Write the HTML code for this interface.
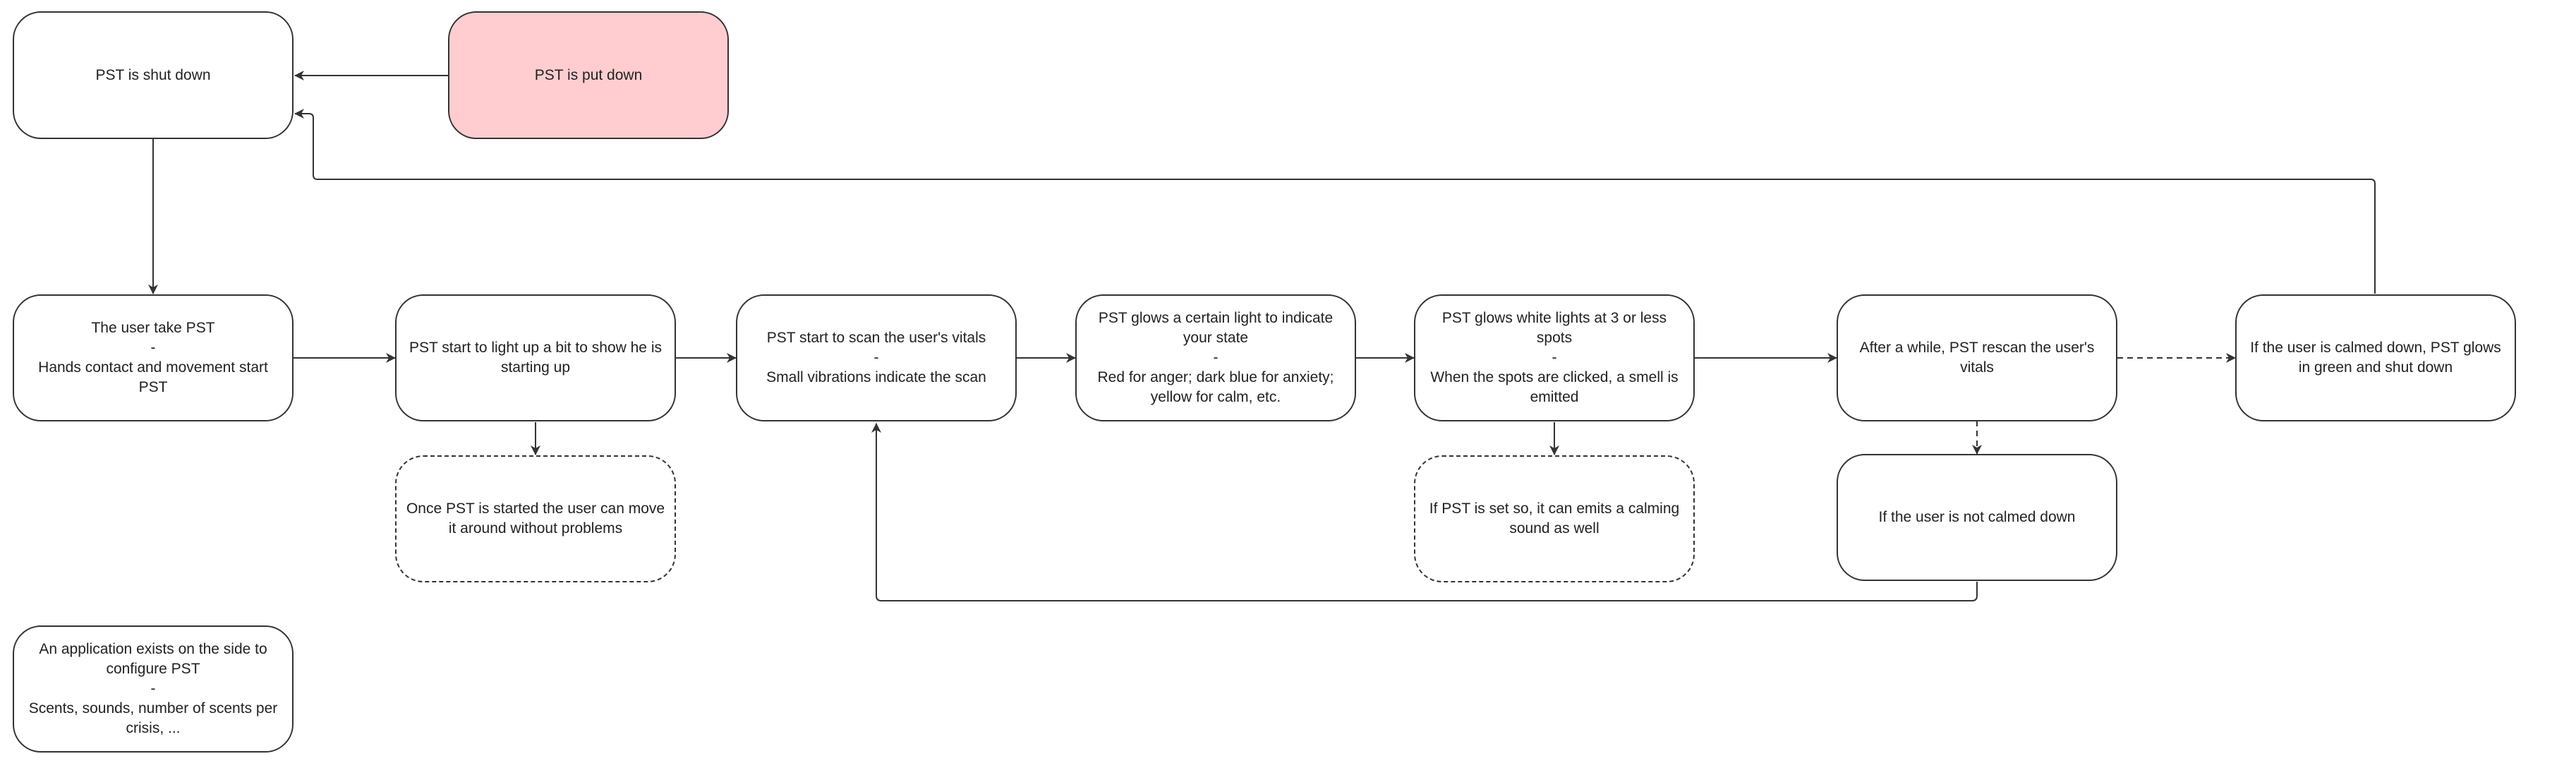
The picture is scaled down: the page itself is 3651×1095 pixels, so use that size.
<!DOCTYPE html>
<html><head><meta charset="utf-8"><style>
body{margin:0;width:3651px;height:1095px;background:#fff;position:relative;overflow:hidden;font-family:"Liberation Sans",sans-serif;}
.b{position:absolute;width:398px;height:180px;box-sizing:border-box;border:2px solid #333;border-radius:40px;display:flex;align-items:center;justify-content:center;text-align:center;font-size:21px;line-height:28px;color:#222;padding:0 16px;background:#fff;}
.d{border-style:dashed;}
svg{position:absolute;left:0;top:0;}
</style></head><body>
<svg width="3651" height="1095" viewBox="0 0 3651 1095">
<defs><marker id="a" markerWidth="14" markerHeight="14" refX="13" refY="7" orient="auto" markerUnits="userSpaceOnUse"><path d="M0,0 L14,7 L0,14 L4,7 z" fill="#333"/></marker></defs>
<g stroke="#333" stroke-width="2" fill="none">
<line x1="635" y1="107" x2="418" y2="107" marker-end="url(#a)"/>
<line x1="217" y1="197" x2="217" y2="416" marker-end="url(#a)"/>
<line x1="416" y1="507" x2="560" y2="507" marker-end="url(#a)"/>
<line x1="958" y1="507" x2="1043" y2="507" marker-end="url(#a)"/>
<line x1="1441" y1="507" x2="1524" y2="507" marker-end="url(#a)"/>
<line x1="1922" y1="507" x2="2004" y2="507" marker-end="url(#a)"/>
<line x1="2402" y1="507" x2="2603" y2="507" marker-end="url(#a)"/>
<line x1="3001" y1="507" x2="3168" y2="507" stroke-dasharray="8,6" marker-end="url(#a)"/>
<line x1="2802" y1="596" x2="2802" y2="643" stroke-dasharray="8,6" marker-end="url(#a)"/>
<line x1="759" y1="598" x2="759" y2="644" marker-end="url(#a)"/>
<line x1="2203" y1="598" x2="2203" y2="644" marker-end="url(#a)"/>
<path d="M2802,824 V844 Q2802,851 2795,851 H1249 Q1242,851 1242,844 V600" marker-end="url(#a)"/>
<path d="M3366,416 V260 Q3366,254 3360,254 H450 Q444,254 444,248 V167 Q444,161 438,161 H418" marker-end="url(#a)"/>
</g></svg>
<div class="b" style="left:18px;top:16px;height:181px">PST is shut down</div>
<div class="b" style="left:635px;top:16px;height:181px;background:#ffcdd0">PST is put down</div>
<div class="b" style="left:18px;top:417px">The user take PST<br>-<br>Hands contact and movement start PST</div>
<div class="b" style="left:560px;top:417px">PST start to light up a bit to show he is starting up</div>
<div class="b" style="left:1043px;top:417px">PST start to scan the user's vitals<br>-<br>Small vibrations indicate the scan</div>
<div class="b" style="left:1524px;top:417px">PST glows a certain light to indicate your state<br>-<br>Red for anger; dark blue for anxiety; yellow for calm, etc.</div>
<div class="b" style="left:2004px;top:417px">PST glows white lights at 3 or less spots<br>-<br>When the spots are clicked, a smell is emitted</div>
<div class="b" style="left:2603px;top:417px">After a while, PST rescan the user's vitals</div>
<div class="b" style="left:3168px;top:417px">If the user is calmed down, PST glows in green and shut down</div>
<div class="b d" style="left:560px;top:645px;padding:0 6px">Once PST is started the user can move it around without problems</div>
<div class="b d" style="left:2004px;top:645px">If PST is set so, it can emits a calming sound as well</div>
<div class="b" style="left:2603px;top:643px">If the user is not calmed down</div>
<div class="b" style="left:18px;top:886px">An application exists on the side to configure PST<br>-<br>Scents, sounds, number of scents per crisis, ...</div>
</body></html>
